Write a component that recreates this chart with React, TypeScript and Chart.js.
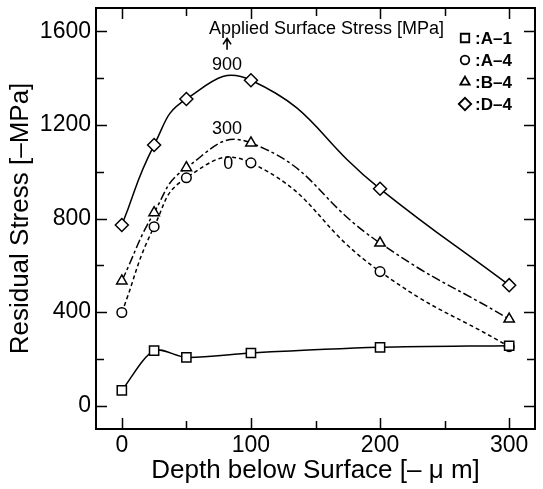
import { useEffect, useRef } from "react";
import { Chart, registerables } from "chart.js";
import { drawPoint } from "chart.js/helpers";

Chart.register(...registerables);

const depths = [0, 25, 50, 100, 200, 300];
const seriesA1 = [65, 235, 206, 225, 249, 256];
const seriesA4 = [398, 765, 974, 1038, 573, 252];
const seriesB4 = [533, 825, 1017, 1123, 695, 370];
const seriesD4 = [772, 1114, 1311, 1391, 927, 515];
const seriesNames = ["A-1", "A-4", "B-4", "D-4"];
const pointStyles = ["rect", "circle", "triangle", "rectRot"];
const appliedStressLabels = ["900", "300", "0"];
const xTickValues = [0, 50, 100, 150, 200, 250, 300];
const yTickValues = [0, 200, 400, 600, 800, 1000, 1200, 1400, 1600];

const FONT = "'Liberation Sans', Arial, Helvetica, sans-serif";

const toXY = (ys: number[]) => depths.map((x, i) => ({ x, y: ys[i] }));

const zeroPadding = (s: any) => {
  s.paddingTop = 0;
  s.paddingBottom = 0;
  s.paddingLeft = 0;
  s.paddingRight = 0;
};

const framePlugin = {
  id: "frameTicks",
  afterDraw(chart: any) {
    const { ctx, chartArea } = chart;
    const xs = chart.scales.x;
    const ys = chart.scales.y;
    ctx.save();
    ctx.strokeStyle = "#000";
    ctx.lineWidth = 2;
    ctx.strokeRect(chartArea.left, chartArea.top, chartArea.right - chartArea.left, chartArea.bottom - chartArea.top);
    ctx.lineWidth = 1.5;
    ctx.beginPath();
    xs.ticks.forEach((t: any) => {
      const px = Math.round(xs.getPixelForValue(t.value)) + 0.5;
      const len = t.value % 100 === 0 ? 11 : 8;
      ctx.moveTo(px, chartArea.bottom);
      ctx.lineTo(px, chartArea.bottom - len);
      ctx.moveTo(px, chartArea.top);
      ctx.lineTo(px, chartArea.top + len);
    });
    ys.ticks.forEach((t: any) => {
      const py = Math.round(ys.getPixelForValue(t.value)) + 0.5;
      const len = t.value % 400 === 0 ? 11 : 8;
      ctx.moveTo(chartArea.left, py);
      ctx.lineTo(chartArea.left + len, py);
      ctx.moveTo(chartArea.right, py);
      ctx.lineTo(chartArea.right - len, py);
    });
    ctx.stroke();
    ctx.restore();
  },
};

const annotationPlugin = {
  id: "annotations",
  afterDatasetsDraw(chart: any) {
    const { ctx, chartArea } = chart;
    const xs = chart.scales.x;
    const ys = chart.scales.y;
    ctx.save();
    ctx.fillStyle = "#000";
    ctx.strokeStyle = "#000";
    // Applied surface stress caption
    ctx.font = `18px ${FONT}`;
    ctx.textAlign = "left";
    ctx.textBaseline = "middle";
    ctx.fillText("Applied Surface Stress [MPa]", xs.getPixelForValue(67.5), ys.getPixelForValue(1612));
    // arrow
    const ax = xs.getPixelForValue(81.5);
    const ay1 = ys.getPixelForValue(1522);
    const ay0 = ys.getPixelForValue(1570);
    ctx.lineWidth = 1.6;
    ctx.beginPath();
    ctx.moveTo(ax, ay1);
    ctx.lineTo(ax, ay0);
    ctx.moveTo(ax - 4, ay0 + 6);
    ctx.lineTo(ax, ay0);
    ctx.lineTo(ax + 4, ay0 + 6);
    ctx.stroke();
    // stress labels
    ctx.font = `18px ${FONT}`;
    ctx.textAlign = "center";
    const labelPos = [
      [81.5, 1455],
      [81.5, 1184],
      [82.5, 1034],
    ];
    appliedStressLabels.forEach((s, i) => {
      ctx.fillText(s, xs.getPixelForValue(labelPos[i][0]), ys.getPixelForValue(labelPos[i][1]));
    });
    // legend
    const lx = chartArea.right - 70;
    const ly0 = chartArea.top + 30;
    const radii = [6, 4.3, 5.4, 6.2];
    ctx.font = `bold 17px ${FONT}`;
    ctx.textAlign = "left";
    seriesNames.forEach((name, i) => {
      const y = ly0 + i * 22;
      ctx.fillStyle = "#fff";
      ctx.strokeStyle = "#000";
      ctx.lineWidth = 1.8;
      drawPoint(ctx, { pointStyle: pointStyles[i], radius: radii[i], rotation: 0, borderWidth: 1.8 } as any, lx, y);
      ctx.fillStyle = "#000";
      ctx.fillText(":" + name.replace("-", "\u2013"), lx + 10, y + 1);
    });
    ctx.restore();
  },
};

export default function App() {
  const ref = useRef<HTMLCanvasElement | null>(null);
  useEffect(() => {
    if (!ref.current) return;
    const common = {
      borderColor: "#000",
      borderWidth: 1.5,
      pointBackgroundColor: "#fff",
      pointBorderColor: "#000",
      pointBorderWidth: 1.5,
      tension: 0.5,
      fill: false,
    };
    const chart = new Chart(ref.current, {
      type: "line",
      data: {
        datasets: [
          { ...common, label: seriesNames[0], data: toXY(seriesA1), pointStyle: "rect", pointRadius: 6.5, tension: 0.3 },
          { ...common, label: seriesNames[1], data: toXY(seriesA4), pointStyle: "circle", pointRadius: 4.8, borderDash: [4, 3] },
          { ...common, label: seriesNames[2], data: toXY(seriesB4), pointStyle: "triangle", pointRadius: 6, borderDash: [9, 3, 3, 3] },
          { ...common, label: seriesNames[3], data: toXY(seriesD4), pointStyle: "rectRot", pointRadius: 6.5 },
        ],
      },
      options: {
        animation: false,
        responsive: false,
        layout: { padding: { top: 7, right: 4, left: 0, bottom: 0 } },
        plugins: { legend: { display: false }, tooltip: { enabled: false } },
        scales: {
          x: {
            type: "linear",
            min: -20,
            max: 320,
            grid: { display: false, drawTicks: false },
            border: { display: false },
            afterBuildTicks: (s: any) => {
              s.ticks = xTickValues.map((v) => ({ value: v }));
            },
            ticks: {
              autoSkip: false,
              maxRotation: 0,
              color: "#000",
              padding: 3,
              font: { family: FONT, size: 23 },
              callback: (v: any) => (Number(v) % 100 === 0 ? String(v) : ""),
            },
            title: {
              display: true,
              text: "Depth below Surface [\u2013 \u03bc m]",
              color: "#000",
              font: { family: FONT, size: 26 },
              padding: { top: 0, bottom: 3 },
            },
            afterFit: (s: any) => {
              s.height = 60;
              zeroPadding(s);
            },
          },
          y: {
            type: "linear",
            min: -100,
            max: 1700,
            grid: { display: false, drawTicks: false },
            border: { display: false },
            afterBuildTicks: (s: any) => {
              s.ticks = yTickValues.map((v) => ({ value: v }));
            },
            ticks: {
              autoSkip: false,
              color: "#000",
              padding: 5,
              font: { family: FONT, size: 23 },
              callback: (v: any) => (Number(v) % 400 === 0 ? String(v) : ""),
            },
            title: {
              display: true,
              text: "Residual Stress [\u2013MPa]",
              color: "#000",
              font: { family: FONT, size: 26 },
              padding: { top: 5, bottom: 0 },
            },
            afterFit: (s: any) => {
              s.width = 96;
              zeroPadding(s);
            },
          },
        },
      },
      plugins: [framePlugin, annotationPlugin],
    });
    return () => chart.destroy();
  }, []);
  return (
    <div style={{ position: "fixed", left: 0, top: 0, width: 543, height: 489, background: "#fff" }}>
      <canvas ref={ref} width={543} height={489} />
    </div>
  );
}
